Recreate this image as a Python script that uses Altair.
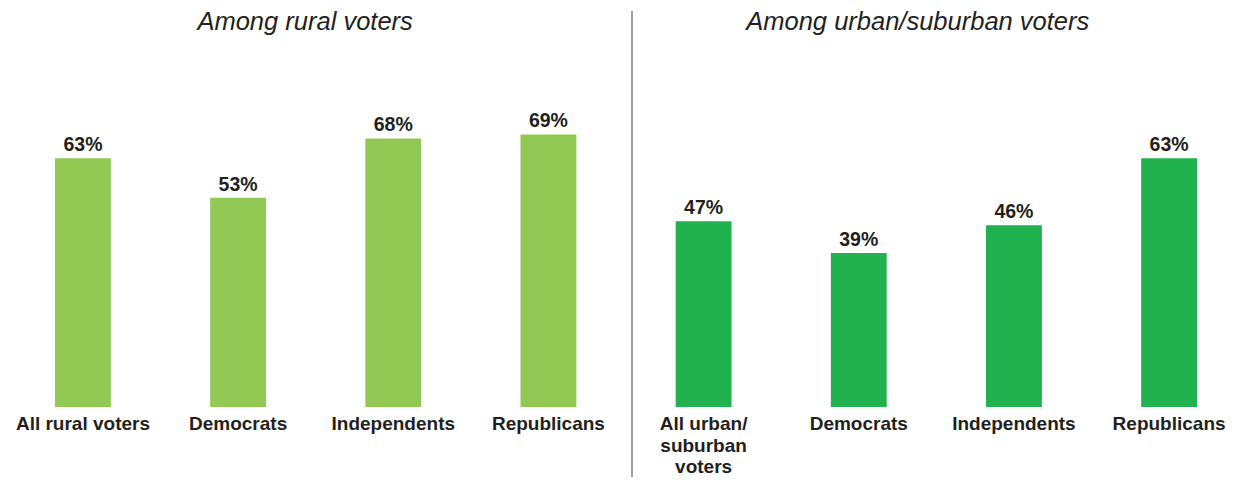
import altair as alt
import pandas as pd

panel_titles = ["Among rural voters", "Among urban/suburban voters"]
panel_colors = ["#92c955", "#21b14f"]

rural_labels = ["All rural voters", "Democrats", "Independents", "Republicans"]
rural_values = [63, 53, 68, 69]

urban_labels = ["All urban/\nsuburban\nvoters", "Democrats", "Independents", "Republicans"]
urban_values = [47, 39, 46, 63]

rows = []
for g, labels, vals in [(panel_titles[0], rural_labels, rural_values),
                        (panel_titles[1], urban_labels, urban_values)]:
    for i, (l, v) in enumerate(zip(labels, vals)):
        rows.append({"key": f"{g}|{i}", "group": g, "label": l, "value": v, "pct": f"{v}%"})
df = pd.DataFrame(rows)
order = list(df["key"])

FONT = "Liberation Sans"
INK = "#231f20"
W, H = 1217, 395

x = alt.X("key:N", sort=order,
          scale=alt.Scale(paddingInner=0.64, paddingOuter=0.2417, align=0.627),
          axis=None)
y = alt.Y("value:Q", scale=alt.Scale(domain=[0, 100], nice=False), axis=None)
color = alt.Color("group:N", scale=alt.Scale(domain=panel_titles, range=panel_colors), legend=None)

bars = alt.Chart(df).mark_bar().encode(x=x, y=y, color=color)

values = alt.Chart(df).mark_text(
    font=FONT, fontSize=19.5, fontWeight="bold", baseline="bottom", dy=-3, color=INK
).encode(x=x, y=y, text="pct:N")

cat_labels = alt.Chart(df).mark_text(
    font=FONT, fontSize=19, fontWeight="bold", baseline="top", dy=8,
    lineBreak="\n", lineHeight=21.5, color=INK
).encode(x=x, y=alt.value(H), text="label:N")

title_df = pd.DataFrame({"title": panel_titles, "key": [order[1], order[5]]})
t1 = alt.Chart(title_df.iloc[[0]]).mark_text(
    font=FONT, fontSize=25.5, fontStyle="italic", baseline="middle", dx=67, color=INK
).encode(x=x, y=alt.value(10), text="title:N")
t2 = alt.Chart(title_df.iloc[[1]]).mark_text(
    font=FONT, fontSize=25.5, fontStyle="italic", baseline="middle", dx=59, color=INK
).encode(x=x, y=alt.value(10), text="title:N")

divider = alt.Chart(pd.DataFrame({"d": [0]})).mark_rule(
    color="#a0a0a0", strokeWidth=2
).encode(x=alt.value(624), y=alt.value(-1), y2=alt.value(H + 74))

chart = alt.layer(bars, values, cat_labels, t1, t2, divider).properties(
    width=W, height=H,
    autosize=alt.AutoSizeParams(type="none"),
    padding={"left": 0, "top": 4, "right": 0, "bottom": 70},
).configure_view(stroke=None)

chart.save("out.html", embed_options={"renderer": "svg", "actions": False})
